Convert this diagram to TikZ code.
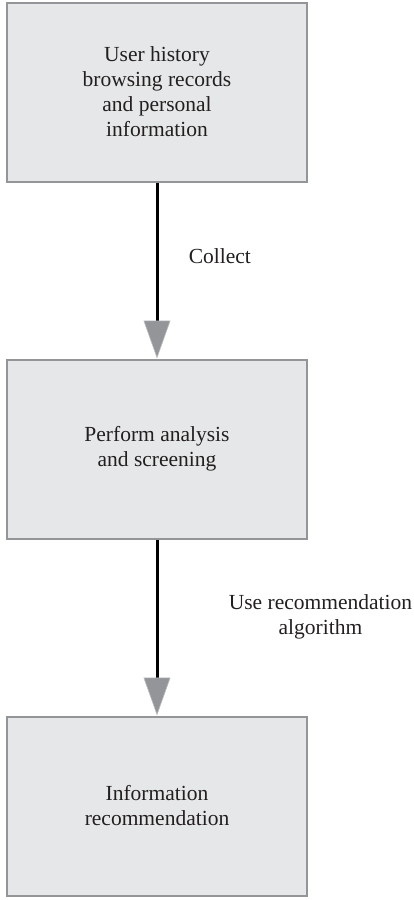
\documentclass[tikz,border=0pt]{standalone}
\usepackage{fontspec}
\setmainfont{Liberation Serif}
\usetikzlibrary{arrows.meta,positioning}
\definecolor{boxfill}{HTML}{E6E7E8}
\definecolor{boxline}{HTML}{939598}
\definecolor{headfill}{HTML}{939598}
\definecolor{textcol}{HTML}{231F20}

\begin{document}
\begin{tikzpicture}[->,>={Triangle[length=38pt,width=27pt,fill=headfill,color=headfill!60,line width=0.6pt]},line width=3pt,auto,node distance=357pt,main node/.style={rectangle,draw=boxline,fill=boxfill,text=textcol,line width=2pt,minimum width=300pt,minimum height=179pt,align=center,font=\fontsize{21.5}{25}\selectfont}]
	\useasboundingbox (0,0) rectangle (413pt,-900pt);
	\node[main node] (1) at (157pt,-92pt) {User history\\browsing records\\and personal\\information};
	\node[main node] (2) [below of=1] {Perform analysis\\and screening};
	\node[main node] (3) [below of=2] {Information\\recommendation};

	\path[every node/.style={font=\fontsize{21.5}{25}\selectfont,text=textcol,align=center}]
		(1) edge node[right=27pt,pos=0.42] {Collect} (2)
		(2) edge node[right=67pt,pos=0.44] {Use recommendation\\algorithm} (3);
\end{tikzpicture}
\end{document}
